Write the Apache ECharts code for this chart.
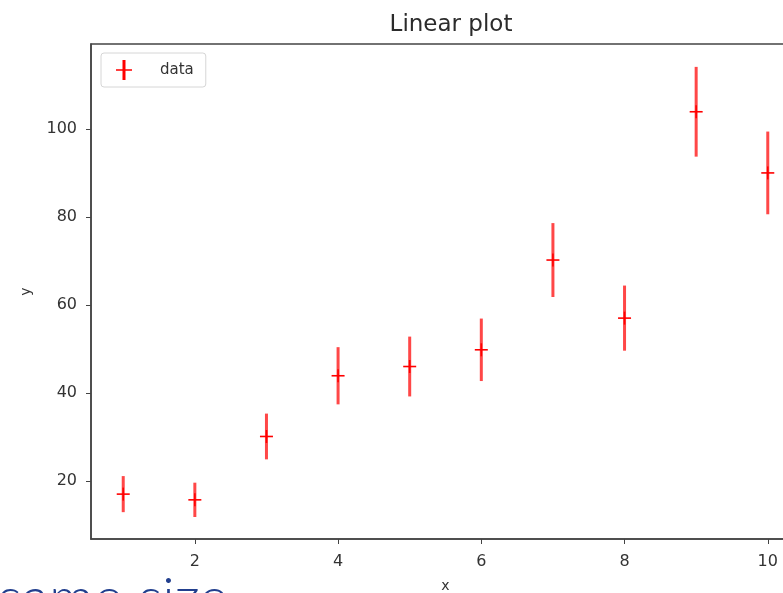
<!DOCTYPE html>
<html>
<head>
<meta charset="utf-8">
<script src="https://cdn.jsdelivr.net/npm/echarts@6/dist/echarts.min.js"></script>
<style>
  html, body { margin: 0; padding: 0; background: #fff; }
  #chart { width: 783px; height: 593px; }
</style>
</head>
<body>
<div id="chart"></div>
<script>
var xs = [1, 2, 3, 4, 5, 6, 7, 8, 9, 10];
var ys = [17.0, 15.7, 30.1, 43.9, 46.0, 49.8, 70.2, 57.0, 103.9, 90.0];
var errs = [4.1, 3.9, 5.2, 6.5, 6.8, 7.1, 8.4, 7.4, 10.2, 9.4];
var xTicks = [2, 4, 6, 8, 10];
var yTicks = [20, 40, 60, 80, 100];

var points = [];
for (var i = 0; i < xs.length; i++) {
  points.push([xs[i], ys[i], errs[i]]);
}

var myChart = echarts.init(document.getElementById('chart'));

// error bar + '+' marker for each point
function renderBar(params, api) {
  var x = api.value(0);
  var y = api.value(1);
  var e = api.value(2);
  var top = api.coord([x, y + e]);
  var bot = api.coord([x, y - e]);
  var mid = api.coord([x, y]);
  return {
    type: 'group',
    children: [
      {
        type: 'line',
        shape: { x1: top[0], y1: top[1], x2: bot[0], y2: bot[1] },
        style: { stroke: 'rgba(255,0,0,0.72)', lineWidth: 3 }
      },
      {
        type: 'line',
        shape: { x1: mid[0] - 6.5, y1: mid[1], x2: mid[0] + 6.5, y2: mid[1] },
        style: { stroke: '#ff0000', lineWidth: 1.6 }
      },
      {
        type: 'line',
        shape: { x1: mid[0], y1: mid[1] - 6.5, x2: mid[0], y2: mid[1] + 6.5 },
        style: { stroke: '#ff0000', lineWidth: 1.6 }
      }
    ]
  };
}

var font = 'DejaVu Sans';
var option = {
  animation: false,
  backgroundColor: '#fff',
  title: {
    text: 'Linear plot',
    left: 446,
    top: 9,
    textAlign: 'center',
    textStyle: { color: '#2b2b2b', fontFamily: font, fontWeight: 'normal', fontSize: 23 }
  },
  legend: {
    left: 101,
    top: 53,
    orient: 'vertical',
    padding: [7, 12, 7, 15],
    borderColor: '#d6d6d6',
    borderWidth: 1,
    borderRadius: 3,
    itemWidth: 16,
    itemHeight: 20,
    data: [{
      name: 'data',
      icon: 'path://M6.5,0 H9.5 V9.2 H16 V10.8 H9.5 V20 H6.5 V10.8 H0 V9.2 H6.5 Z',
      itemStyle: { color: '#ff0000' }
    }],
    textStyle: { color: '#333', fontFamily: font, fontSize: 15, padding: [0, 0, 0, 23] }
  },
  grid: {
    left: 91,
    top: 44,
    right: -17,
    bottom: 54,
    containLabel: false,
    outerBoundsMode: 'none',
    show: true,
    borderColor: '#444',
    borderWidth: 1.5
  },
  xAxis: {
    type: 'value',
    min: 0.55,
    max: 10.45,
    name: 'x',
    nameLocation: 'middle',
    nameGap: 40,
    nameTextStyle: { color: '#333', fontFamily: font, fontSize: 14 },
    splitLine: { show: false },
    axisLine: { lineStyle: { color: '#444', width: 1.5 } },
    axisTick: { length: 5, customValues: xTicks, lineStyle: { color: '#444' } },
    axisLabel: { margin: 15, customValues: xTicks, color: '#333', fontFamily: font, fontSize: 16 }
  },
  yAxis: {
    type: 'value',
    min: 6.8,
    max: 119.3,
    name: 'y',
    nameLocation: 'middle',
    nameGap: 58,
    nameTextStyle: { color: '#333', fontFamily: font, fontSize: 14 },
    splitLine: { show: false },
    axisLine: { lineStyle: { color: '#444', width: 1.5 } },
    axisTick: { length: 5, customValues: yTicks, lineStyle: { color: '#444' } },
    axisLabel: { margin: 14, customValues: yTicks, color: '#333', fontFamily: font, fontSize: 16 }
  },
  graphic: [{
    type: 'text',
    left: -2,
    top: 571,
    style: {
      text: 'same size',
      fill: '#223f8e',
      font: '300 56px Lato'
    }
  }],
  series: [{
    name: 'data',
    type: 'custom',
    renderItem: renderBar,
    encode: { x: 0, y: 1 },
    data: points,
    z: 10
  }]
};
myChart.setOption(option);
</script>
</body>
</html>
